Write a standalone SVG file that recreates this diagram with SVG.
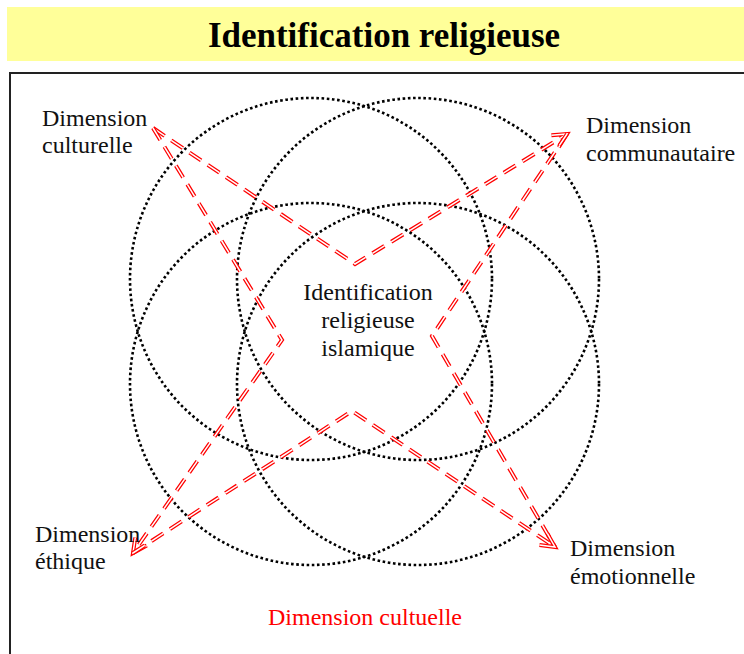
<svg xmlns="http://www.w3.org/2000/svg" width="744" height="654" viewBox="0 0 744 654">
  <style>
    .lbl { font-family: "Liberation Serif", "Times New Roman", serif; font-size: 24px; fill: #111; }
    .ring { fill: none; stroke: #000; stroke-width: 2.6; stroke-dasharray: 2.6 2.6; }
    .rail { fill: none; stroke: #ff0000; stroke-width: 4; stroke-dasharray: 14 8; }
    .gap { fill: none; stroke: #fff; stroke-width: 1.5; stroke-dasharray: 14 8; }
  </style>
  <defs>
    <marker id="headRed" markerUnits="userSpaceOnUse" markerWidth="30" markerHeight="30" refX="0" refY="0" viewBox="-16 -15 30 30" orient="auto" overflow="visible">
      <path d="M-14,-7 L0,0 L-14,7" fill="none" stroke="#ff0000" stroke-width="4"/>
    </marker>
    <marker id="headGap" markerUnits="userSpaceOnUse" markerWidth="30" markerHeight="30" refX="0" refY="0" viewBox="-16 -15 30 30" orient="auto" overflow="visible">
      <path d="M-14,-7 L0,0 L-14,7" fill="none" stroke="#fff" stroke-width="1.5"/>
    </marker>
  </defs>

  <rect width="744" height="654" fill="#fff"/>

  <!-- title band -->
  <g id="title">
    <rect x="7" y="7" width="740" height="54" fill="#ffff99"/>
    <text x="384" y="47" text-anchor="middle" font-family="'Liberation Serif', 'Times New Roman', serif" font-size="35" font-weight="bold" fill="#000">Identification religieuse</text>
  </g>

  <!-- outer frame -->
  <rect id="frame" x="10" y="73" width="740" height="590" fill="none" stroke="#222" stroke-width="2"/>

  <!-- four overlapping dotted rings -->
  <g id="rings">
    <circle id="ring-tl" class="ring" cx="311" cy="279" r="181"/>
    <circle id="ring-tr" class="ring" cx="418" cy="279" r="181"/>
    <circle id="ring-bl" class="ring" cx="311" cy="384" r="181"/>
    <circle id="ring-br" class="ring" cx="418" cy="384" r="181"/>
  </g>

  <!-- double dashed red connectors -->
  <g id="connectors">
    <path class="rail" d="M153,128 L355,264 L567,134" marker-end="url(#headRed)"/>
    <path class="gap" d="M153,128 L355,264 L567,134" marker-end="url(#headGap)"/>
    <path class="rail" d="M153,128 L282,340 L133,553" marker-end="url(#headRed)"/>
    <path class="gap" d="M153,128 L282,340 L133,553" marker-end="url(#headGap)"/>
    <path class="rail" d="M567,134 L432,336 L555,547"/>
    <path class="gap" d="M567,134 L432,336 L555,547"/>
    <path class="rail" d="M133,553 L352,411 L555,547" marker-end="url(#headRed)"/>
    <path class="gap" d="M133,553 L352,411 L555,547" marker-end="url(#headGap)"/>
  </g>

  <g id="node-center">
    <text class="lbl" text-anchor="middle" x="368" y="300">Identification</text>
    <text class="lbl" text-anchor="middle" x="368" y="328">religieuse</text>
    <text class="lbl" text-anchor="middle" x="368" y="356">islamique</text>
  </g>
  <g id="node-culturelle">
    <text class="lbl" x="42" y="126">Dimension</text>
    <text class="lbl" x="42" y="153">culturelle</text>
  </g>
  <g id="node-communautaire">
    <text class="lbl" x="586" y="133">Dimension</text>
    <text class="lbl" x="586" y="161">communautaire</text>
  </g>
  <g id="node-ethique">
    <text class="lbl" x="35" y="542">Dimension</text>
    <text class="lbl" x="35" y="569">éthique</text>
  </g>
  <g id="node-emotionnelle">
    <text class="lbl" x="570" y="556">Dimension</text>
    <text class="lbl" x="570" y="584">émotionnelle</text>
  </g>
  <g id="node-cultuelle">
    <text class="lbl" x="365" y="625" text-anchor="middle" style="fill:#ff0000">Dimension cultuelle</text>
  </g>
</svg>
